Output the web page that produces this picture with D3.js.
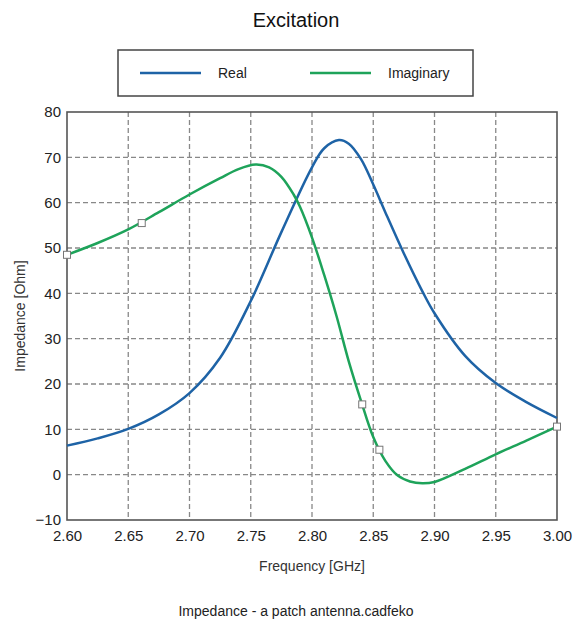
<!DOCTYPE html>
<html><head><meta charset="utf-8">
<script src="https://cdn.jsdelivr.net/npm/d3@7"></script>
<style>body{margin:0;background:#fff;} text{font-family:"Liberation Sans",Arial,sans-serif;}</style>
</head><body>
<script>
const realFreq = [2.600,2.625,2.650,2.675,2.700,2.725,2.750,2.775,2.800,2.810,2.822,2.830,2.840,2.850,2.860,2.875,2.890,2.900,2.925,2.950,2.975,3.000];
const realVals = [6.4,8.0,10.1,13.3,18.0,25.8,38.3,53.5,67.8,72.0,73.8,73.0,69.6,64.0,57.8,48.8,40.5,35.6,26.2,20.2,16.0,12.5];
const imagFreq = [2.600,2.625,2.650,2.675,2.700,2.725,2.740,2.754,2.765,2.775,2.785,2.790,2.800,2.810,2.820,2.830,2.840,2.850,2.860,2.870,2.880,2.890,2.900,2.925,2.950,2.975,3.000];
const imagVals = [48.5,51.1,54.1,57.9,61.8,65.4,67.4,68.4,67.8,65.7,61.8,59.2,52.3,44.0,35.0,25.0,16.3,8.3,3.0,-0.2,-1.5,-1.9,-1.6,1.3,4.5,7.5,10.6];
const markerFreq = [2.600,2.661,2.841,2.855,3.000];
const markerVals = [48.5,55.5,15.5,5.5,10.6];
const xTicks = [2.60,2.65,2.70,2.75,2.80,2.85,2.90,2.95,3.00];
const yTicks = [-10,0,10,20,30,40,50,60,70,80];
const seriesNames = ["Real","Imaginary"];
const seriesColors = ["#1e63a6","#1ea35a"];

const W=576,H=627;
const svg=d3.select("body").append("svg").attr("width",W).attr("height",H);
const m={left:67,right:557,top:112,bottom:520};
const x=d3.scaleLinear().domain([2.6,3.0]).range([m.left,m.right]);
const y=d3.scaleLinear().domain([-10,80]).range([m.bottom,m.top]);

svg.append("text").attr("x",296).attr("y",27).attr("text-anchor","middle").attr("font-size",20).attr("fill","#111").text("Excitation");

// legend
svg.append("rect").attr("x",118).attr("y",50).attr("width",355).attr("height",46).attr("fill","none").attr("stroke","#444").attr("stroke-width",1.5);
const legX=[140,310];
seriesNames.forEach((n,i)=>{
  svg.append("line").attr("x1",legX[i]).attr("x2",legX[i]+61).attr("y1",73).attr("y2",73).attr("stroke",seriesColors[i]).attr("stroke-width",2.5);
  svg.append("text").attr("x",legX[i]+78).attr("y",78).attr("font-size",14).attr("fill","#222").text(n);
});

// grid
const g=svg.append("g");
g.selectAll(".gx").data(xTicks.slice(1,-1)).enter().append("line")
 .attr("x1",d=>x(d)).attr("x2",d=>x(d)).attr("y1",m.top).attr("y2",m.bottom)
 .attr("stroke","#888").attr("stroke-width",1.3).attr("stroke-dasharray","5,3");
g.selectAll(".gy").data(yTicks.slice(1,-1)).enter().append("line")
 .attr("y1",d=>y(d)).attr("y2",d=>y(d)).attr("x1",m.left).attr("x2",m.right)
 .attr("stroke","#888").attr("stroke-width",1.3).attr("stroke-dasharray","5,3");

// axes
const xa=svg.append("g").attr("transform",`translate(0,${m.bottom})`).call(d3.axisBottom(x).tickValues(xTicks).tickFormat(d3.format(".2f")).tickSize(0).tickPadding(10));
const ya=svg.append("g").attr("transform",`translate(${m.left},0)`).call(d3.axisLeft(y).tickValues(yTicks).tickSize(0).tickPadding(6));
[xa,ya].forEach(a=>{a.select(".domain").remove();a.selectAll("text").attr("font-size",15).attr("fill","#222").attr("font-family","Liberation Sans, Arial, sans-serif");});

svg.append("rect").attr("x",m.left).attr("y",m.top).attr("width",m.right-m.left).attr("height",m.bottom-m.top)
 .attr("fill","none").attr("stroke","#555").attr("stroke-width",1.6);

const line=d3.line().x(d=>x(d[0])).y(d=>y(d[1])).curve(d3.curveCatmullRom.alpha(0.5));
svg.append("path").datum(realFreq.map((f,i)=>[f,realVals[i]])).attr("d",line).attr("fill","none").attr("stroke",seriesColors[0]).attr("stroke-width",2.5);
svg.append("path").datum(imagFreq.map((f,i)=>[f,imagVals[i]])).attr("d",line).attr("fill","none").attr("stroke",seriesColors[1]).attr("stroke-width",2.5);

svg.selectAll(".mk").data(markerFreq.map((f,i)=>[f,markerVals[i]])).enter().append("rect")
 .attr("x",d=>x(d[0])-3.5).attr("y",d=>y(d[1])-3.5).attr("width",7).attr("height",7)
 .attr("fill","#fff").attr("stroke","#777").attr("stroke-width",1);

svg.append("text").attr("x",312).attr("y",571).attr("text-anchor","middle").attr("font-size",14).attr("fill","#333").text("Frequency [GHz]");
svg.append("text").attr("transform","translate(25,316) rotate(-90)").attr("text-anchor","middle").attr("font-size",14).attr("fill","#333").text("Impedance [Ohm]");
svg.append("text").attr("x",296).attr("y",616).attr("text-anchor","middle").attr("font-size",14).attr("fill","#222").text("Impedance - a patch antenna.cadfeko");
</script>
</body></html>
